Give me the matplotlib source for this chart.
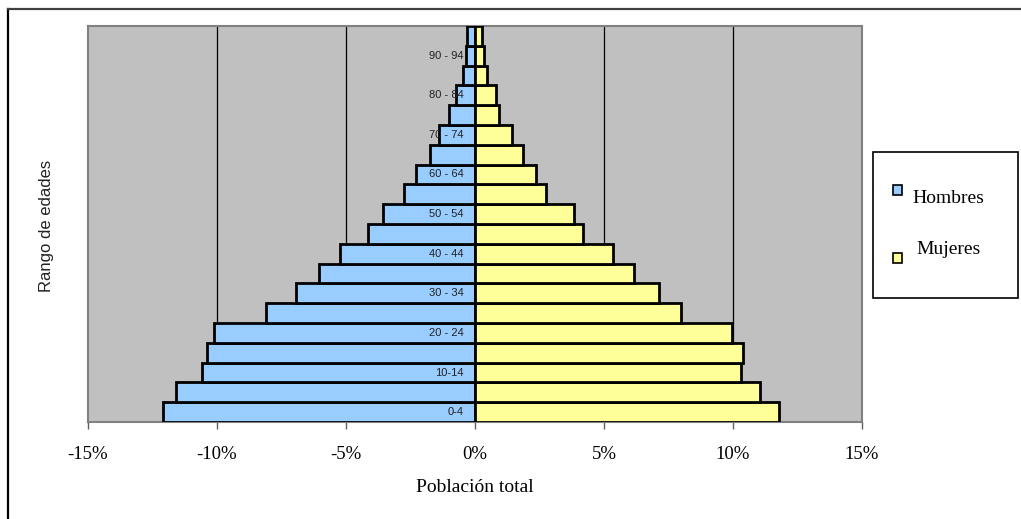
import matplotlib.pyplot as plt
from matplotlib.lines import Line2D
from matplotlib.patches import Rectangle

# Age groups, bottom to top
grupos = ["0-4", "5 - 9", "10-14", "15 - 19", "20 - 24", "25 - 29", "30 - 34",
          "35 - 39", "40 - 44", "45 - 49", "50 - 54", "55 - 59", "60 - 64",
          "65 - 69", "70 - 74", "75 - 79", "80 - 84", "85 - 89", "90 - 94", "95 +"]

# Share of total population (%)
hombres = [12.1, 11.6, 10.6, 10.4, 10.1, 8.1, 6.95, 6.05, 5.25, 4.15,
           3.55, 2.75, 2.3, 1.75, 1.4, 1.0, 0.75, 0.47, 0.35, 0.3]
mujeres = [11.8, 11.05, 10.3, 10.37, 9.95, 8.0, 7.15, 6.15, 5.35, 4.2,
           3.82, 2.75, 2.35, 1.85, 1.45, 0.92, 0.82, 0.47, 0.33, 0.27]

xticks = [-15, -10, -5, 0, 5, 10, 15]
xtick_labels = ["-15%", "-10%", "-5%", "0%", "5%", "10%", "15%"]

W, H = 1021, 519


def fx(px):
    return px / W


def fy(py):
    return 1 - py / H


serif = "Liberation Serif"
sans = "Liberation Sans"

fig = plt.figure(figsize=(W / 100, H / 100), dpi=100)
fig.patch.set_facecolor("white")

ax = fig.add_axes([fx(88), fy(422), fx(862) - fx(88), fy(26) - fy(422)])
ax.set_facecolor("#C0C0C0")

y = range(len(grupos))
ax.barh(y, [-v for v in hombres], height=1.0, color="#99CCFF",
        edgecolor="black", linewidth=2.0, zorder=3)
ax.barh(y, mujeres, height=1.0, color="#FFFF99",
        edgecolor="black", linewidth=2.0, zorder=3)

for xv in xticks[1:-1]:
    ax.axvline(xv, color="black", lw=0.9, zorder=1)

ax.set_xlim(-15, 15)
ax.set_ylim(-0.5, len(grupos) - 0.5)

ax.set_xticks(xticks)
ax.set_xticklabels(xtick_labels, fontfamily=serif, fontsize=13.5)
ax.tick_params(axis="x", direction="out", length=5, width=1, color="#606060", pad=12)
ax.set_yticks([])

for s in ax.spines.values():
    s.set_color("#808080")
    s.set_linewidth(1.5)

# category labels next to the zero line, every other group
for i, g in enumerate(grupos):
    if i % 2 == 0:
        ax.text(-0.45, i, g, ha="right", va="center", fontsize=8,
                fontfamily=sans, color="#222222", zorder=4)

fig.text(fx(475), fy(487), "Población total", ha="center", va="center",
         fontfamily=serif, fontsize=14)
fig.text(fx(47), fy(226), "Rango de edades", rotation=90, ha="center",
         va="center", fontfamily=sans, fontsize=12, color="#222222")

# legend box
fig.patches.append(Rectangle((fx(873), fy(298)), fx(1018) - fx(873), fy(152) - fy(298),
                             transform=fig.transFigure, facecolor="white",
                             edgecolor="black", linewidth=1.2))
sq = 9
for cx, cy, col in [(897, 190, "#99CCFF"), (897, 258, "#FFFF99")]:
    fig.patches.append(Rectangle((fx(cx - sq / 2), fy(cy + sq / 2)), sq / W, sq / H,
                                 transform=fig.transFigure, facecolor=col,
                                 edgecolor="black", linewidth=1.2))
fig.text(fx(912), fy(199), "Hombres", ha="left", va="center",
         fontfamily=serif, fontsize=14)
fig.text(fx(916), fy(250), "Mujeres", ha="left", va="center",
         fontfamily=serif, fontsize=14)

# outer frame
fig.lines.append(Line2D([fx(8), fx(8)], [fy(9), 0], transform=fig.transFigure,
                        color="black", lw=1.6))
fig.lines.append(Line2D([fx(8), 1], [fy(9), fy(9)], transform=fig.transFigure,
                        color="#404040", lw=1.6))

fig.savefig("out.png", dpi=100)
